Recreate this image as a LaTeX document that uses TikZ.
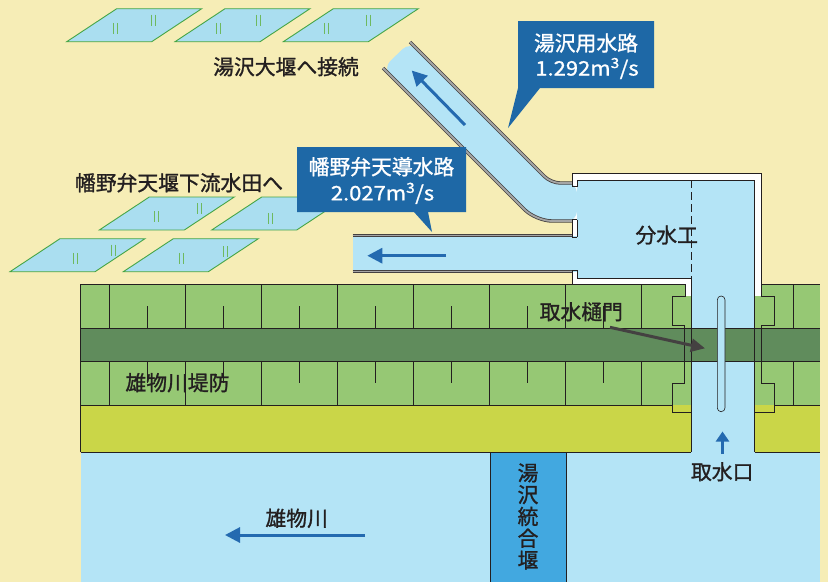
\documentclass[tikz,border=0pt]{standalone}
\usepackage{fontspec}
\setmainfont{Noto Sans CJK JP}[FakeBold=1.2]
\newfontfamily\numfont{Noto Sans CJK JP}[FakeBold=1.0, FakeStretch=1.1]
\usetikzlibrary{arrows.meta}

\definecolor{cream}{RGB}{246,237,182}
\definecolor{paddy}{RGB}{170,222,240}
\definecolor{paddyedge}{RGB}{70,165,70}
\definecolor{paddymark}{RGB}{110,185,95}
\definecolor{bankgreen}{RGB}{150,200,116}
\definecolor{bankdark}{RGB}{96,140,92}
\definecolor{bankyellow}{RGB}{202,214,72}
\definecolor{water}{RGB}{180,228,246}
\definecolor{weir}{RGB}{66,168,224}
\definecolor{calloutblue}{RGB}{30,104,166}
\definecolor{flowblue}{RGB}{36,106,176}
\definecolor{ink}{RGB}{35,31,32}
\definecolor{wallgray}{RGB}{165,165,165}

% a paddy field: parallelogram standing on its lower left corner
\newcommand\paddyfield[2]{%
  \draw[paddyedge, fill=paddy, line width=0.9pt]
    (#1,#2) -- ++(85,0) -- ++(50,-33) -- ++(-85,0) -- cycle;}
% the small "||" sign inside a paddy field
\newcommand\paddysign[2]{%
  \draw[paddymark, line width=0.8pt]
    (#1-2,#2-5.5) -- (#1-2,#2+5.5) (#1+2,#2-5.5) -- (#1+2,#2+5.5);}

\begin{document}
\begin{tikzpicture}[x=1pt,y=-1pt,
  jtext/.style={font=\fontsize{20.8}{22}\selectfont, text=ink, inner sep=0pt},
  calltext/.style={font=\fontsize{20.8}{22}\selectfont, text=white, inner sep=0pt},
  callnum/.style={font=\numfont\fontsize{20}{22}\selectfont, text=white, inner sep=0pt},
  flow/.style={draw=flowblue, line width=3pt, -{Triangle[length=15pt,width=15pt]}},
  outl/.style={draw=ink, line width=0.6pt},
  canalwall/.style={draw=ink!85, line width=0.8pt, double=wallgray, double distance=1.8pt},
]
\useasboundingbox (0,0) rectangle (828,582);
\fill[cream] (0,0) rectangle (828,582);

% ---- paddy fields
\paddyfield{66.7}{41.7}\paddyfield{175}{41.7}\paddyfield{283.3}{41.7}
\paddyfield{99.3}{230}\paddyfield{211.7}{230}
\paddyfield{10}{271.7}\paddyfield{123.3}{271.7}
\paddysign{115}{28.3}\paddysign{153.3}{20}
\paddysign{218.3}{28.3}\paddysign{258.3}{20}
\paddysign{326.7}{28.3}\paddysign{368.3}{20}
\paddysign{156.7}{216.7}\paddysign{199.3}{208.5}
\paddysign{270}{218.3}
\paddysign{75}{258.3}\paddysign{113.3}{250}
\paddysign{181.7}{258.3}\paddysign{225}{251.7}

% ---- levee, berm and river
\fill[bankgreen] (80.7,284) rectangle (820,405);
\foreach \x in {109,185,...,793} \draw[outl] (\x,284) -- (\x,405);
\foreach \x in {147,223,...,755} \draw[outl] (\x,306) -- (\x,328) (\x,361) -- (\x,383);
\fill[bankgreen] (672,296) rectangle (691,405);
\fill[bankgreen] (754.5,296) rectangle (774,405);
\fill[bankyellow] (80.7,405) rectangle (820,452);
\fill[water] (80.7,452) rectangle (820,582);
\fill[weir] (490,452) rectangle (566,582);
\draw[outl] (490,452) -- (490,582) (566,452) -- (566,582);

% ---- diversion works: white frame and water
\fill[white] (572,173) rectangle (761,284);
\fill[white] (685,284) rectangle (761,296);
\fill[water] (577,180) rectangle (754.5,278);
\fill[water] (691,180) rectangle (754.5,452);

% ---- canals
\fill[water, rounded corners=10pt] (410,42) -- (551,183) -- (577,183) -- (577,221) -- (536,221) -- (383,68) -- cycle;
\fill[water] (352.7,235.5) rectangle (577,271.5);
\draw[canalwall, rounded corners=9pt] (410,42) -- (551,183) -- (572,183);
\draw[canalwall, rounded corners=16pt] (383,68) -- (536,221) -- (572,221);
\draw[canalwall] (352.7,235.5) -- (572,235.5);
\draw[canalwall] (352.7,271.5) -- (572,271.5);

% ---- dark band along the levee crown
\fill[bankdark] (80.7,328) rectangle (820,361);

% ---- outlines of levee and berm
\draw[outl] (80.7,328) -- (820,328) (80.7,361) -- (820,361);
\draw[outl] (80.7,284) -- (572,284) (761,284) -- (820,284);
\draw[outl] (80.7,284) -- (80.7,452);
\draw[outl] (80.7,405) -- (672,405) (774,405) -- (820,405);
\draw[outl] (80.7,452) -- (691,452) (754.5,452) -- (820,452);

% ---- frame of the diversion works
\draw[outl] (572,284) -- (685,284) -- (685,296) -- (672,296) -- (672,325) -- (684.5,325)
  -- (684.5,383) -- (672,383) -- (672,412) -- (691,412);
\draw[outl] (572,270) -- (572,284);
\draw[outl] (572,237) -- (572,219.5) -- (577,219.5) (572,237) -- (577,237);
\draw[outl] (572,186.5) -- (572,173) -- (761,173) -- (761,296) -- (774,296) -- (774,325)
  -- (761,325) -- (761,383) -- (774,383) -- (774,412) -- (754.5,412);
\draw[outl] (572,186.5) -- (577,186.5) -- (577,180) -- (754.5,180) -- (754.5,452);
\draw[outl] (577,219.5) -- (577,237);
\draw[outl] (572,270) -- (577,270) -- (577,278) -- (691,278) -- (691,452);
\draw[outl, dash pattern=on 8pt off 4pt] (691,180) -- (691,278);

% ---- intake gate
\draw[outl, fill=water, rounded corners=3.8pt] (717.3,296) rectangle (725,411.7);

% ---- callouts
\fill[calloutblue] (518,21) -- (654,21) -- (654,88) -- (540,88) -- (508,128) -- (518,88) -- cycle;
\fill[calloutblue] (297,147) -- (466,147) -- (466,212) -- (428,212) -- (432,232) -- (414,212) -- (297,212) -- cycle;
\node[calltext] (yuzawaname) at (586,43) {湯沢用水路};
\node[callnum] (yuzawaflow) at (587,68.5) {1.292m\textsuperscript{3}/s};
\node[calltext] (hatanoname) at (381.5,166.7) {幡野弁天導水路};
\node[callnum] (hatanoflow) at (382.5,193.3) {2.027m\textsuperscript{3}/s};

% ---- flow arrows
\coordinate (upA) at (465,125);  \coordinate (upB) at (411.7,70.5);
\coordinate (loA) at (446,255.7); \coordinate (loB) at (367.3,255.7);
\coordinate (rvA) at (365,535);  \coordinate (rvB) at (225,535);
\coordinate (inA) at (722.5,454); \coordinate (inB) at (722.5,431.5);
\draw[flow] (upA) -- (upB);
\draw[flow] (loA) -- (loB);
\draw[flow] (rvA) -- (rvB);
\draw[flow, line width=2.5pt, -{Triangle[length=10pt,width=13pt]}] (inA) -- (inB);

% ---- labels
\node[jtext] (connect) at (286,66.7) {湯沢大堰へ接続};
\node[jtext] (paddies) at (179,182.7) {幡野弁天堰下流水田へ};
\node[jtext] (bunsui) at (666.7,235) {分水工};
\node[jtext] (gate) at (581.3,311.7) {取水樋門};
\node[jtext] (levee) at (177.5,382.7) {雄物川堤防};
\node[jtext] (river) at (296.7,518.3) {雄物川};
\node[jtext] (intake) at (722.2,471.7) {取水口};
\node[jtext, font=\fontsize{20.8}{21.8}\selectfont, align=center] (weirname) at (528,516.5) {湯\\沢\\統\\合\\堰};

% ---- pointer to the gate
\coordinate (gateTip) at (705,348.3);
\draw[draw=ink!85, line width=3pt, -{Triangle[length=14pt,width=13pt]}] (610,327.3) -- (gateTip);
\end{tikzpicture}
\end{document}
